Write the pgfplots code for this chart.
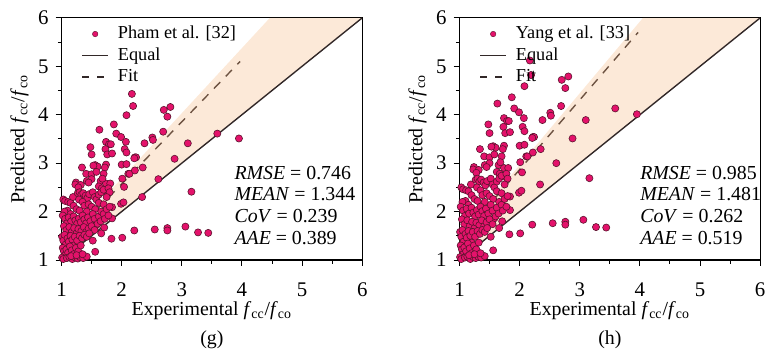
\documentclass[border=0pt]{standalone}
\usepackage{pgfplots}
\pgfplotsset{compat=1.18}
\usepackage{pgfplotstable}
\usepackage{fontspec}
\setmainfont{Liberation Serif}
\definecolor{ptc}{RGB}{228,18,107}
\definecolor{ptedge}{RGB}{90,20,45}
\definecolor{bandc}{RGB}{245,182,125}
\definecolor{linec}{RGB}{50,40,40}

\pgfplotstableread{
x yg yh
2.17 4.43 5.12
2.19 4.18 4.82
2.08 3.99 4.59
2.70 4.10 4.72
2.81 4.16 4.79
2.76 3.96 4.55
1.63 3.69 4.23
1.87 3.80 4.36
1.48 3.33 3.80
1.50 3.18 3.62
1.74 3.44 3.93
1.79 3.39 3.87
1.82 3.39 3.87
1.91 3.61 4.13
1.99 3.54 4.05
2.07 3.44 3.93
2.05 3.29 3.75
2.08 3.22 3.66
2.38 3.41 3.89
2.51 3.53 4.04
2.52 3.48 3.98
2.69 3.65 4.18
1.73 3.29 3.75
1.76 3.18 3.62
1.84 3.20 3.64
2.22 3.12 3.54
2.24 3.12 3.54
1.74 2.97 3.36
1.72 2.91 3.29
1.56 2.96 3.35
1.60 2.93 3.32
1.34 2.91 3.29
2.00 2.97 3.36
2.08 2.98 3.38
1.41 2.78 3.14
1.50 2.77 3.12
1.42 2.63 2.96
1.24 2.60 2.92
1.23 2.56 2.87
1.65 2.63 2.96
1.62 2.52 2.82
1.67 2.48 2.78
1.74 2.58 2.90
1.75 2.43 2.72
1.81 2.58 2.90
2.01 2.68 3.02
2.04 2.51 2.81
2.11 2.78 3.14
2.13 2.78 3.14
2.21 3.10 3.52
2.35 2.91 3.29
2.22 2.85 3.22
2.88 3.09 3.51
3.10 3.41 3.89
3.59 3.61 4.13
3.95 3.51 4.01
3.16 2.41 2.69
2.61 2.67 3.00
2.34 2.30 2.56
1.99 2.16 2.39
2.03 2.19 2.43
1.84 2.09 2.31
1.84 1.86 2.03
1.71 1.67 1.80
1.66 1.55 1.66
2.21 1.61 1.73
2.55 1.63 1.76
2.76 1.66 1.79
2.76 1.61 1.73
3.06 1.69 1.83
3.27 1.57 1.68
3.44 1.56 1.67
1.83 1.44 1.53
2.01 1.46 1.55
1.52 1.40 1.48
1.56 1.17 1.20
1.38 1.06 1.07
1.23 1.08 1.10
1.53 2.95 3.34
1.50 2.67 3.00
1.70 2.78 3.14
1.58 2.82 3.18
1.68 2.68 3.02
1.45 2.60 2.92
1.32 2.55 2.86
1.28 2.50 2.80
1.03 2.25 2.50
1.06 2.22 2.46
1.11 2.20 2.44
1.15 2.18 2.42
1.19 2.30 2.56
1.27 2.38 2.66
1.30 2.40 2.68
1.33 2.35 2.62
1.36 2.38 2.66
1.40 2.33 2.60
1.43 2.28 2.54
1.46 2.36 2.63
1.52 2.40 2.68
1.55 2.30 2.56
1.58 2.25 2.50
1.62 2.35 2.62
1.66 2.40 2.68
1.70 2.45 2.74
1.78 2.48 2.78
1.80 2.40 2.68
1.29 2.25 2.50
1.35 2.20 2.44
1.38 2.12 2.34
1.45 2.15 2.38
1.50 2.10 2.32
1.56 2.05 2.26
1.20 2.12 2.34
1.25 2.05 2.26
1.10 2.02 2.22
1.05 2.00 2.20
1.15 1.95 2.14
1.30 2.02 2.22
1.42 2.00 2.20
1.62 2.18 2.42
1.70 2.15 2.38
1.75 2.30 2.56
1.02 1.92 2.10
1.06 1.85 2.02
1.09 1.76 1.91
1.12 1.88 2.06
1.16 1.80 1.96
1.20 1.90 2.08
1.23 1.82 1.98
1.26 1.75 1.90
1.29 1.86 2.03
1.32 1.78 1.94
1.35 1.92 2.10
1.38 1.84 2.01
1.41 1.76 1.91
1.44 1.88 2.06
1.48 1.80 1.96
1.52 1.95 2.14
1.55 1.85 2.02
1.58 1.72 1.86
1.62 1.90 2.08
1.66 2.00 2.20
1.70 1.95 2.14
1.75 2.05 2.26
1.80 2.10 2.32
1.04 1.70 1.84
1.08 1.62 1.74
1.13 1.68 1.82
1.17 1.58 1.70
1.21 1.66 1.79
1.25 1.55 1.66
1.28 1.64 1.77
1.33 1.60 1.72
1.37 1.68 1.82
1.41 1.58 1.70
1.45 1.65 1.78
1.50 1.70 1.84
1.55 1.62 1.74
1.60 1.75 1.90
1.65 1.80 1.96
1.72 1.85 2.02
1.78 1.92 2.10
1.01 1.48 1.58
1.03 1.40 1.48
1.05 1.52 1.62
1.07 1.32 1.38
1.10 1.45 1.54
1.12 1.38 1.46
1.15 1.50 1.60
1.18 1.42 1.50
1.20 1.30 1.36
1.22 1.48 1.58
1.26 1.40 1.48
1.30 1.50 1.60
1.34 1.45 1.54
1.38 1.52 1.62
1.42 1.48 1.58
1.46 1.55 1.66
1.02 1.25 1.30
1.04 1.18 1.22
1.06 1.10 1.12
1.08 1.22 1.26
1.11 1.15 1.18
1.14 1.28 1.34
1.17 1.20 1.24
1.20 1.12 1.14
1.24 1.25 1.30
1.28 1.18 1.22
1.32 1.30 1.36
1.01 1.05 1.06
1.03 1.02 1.02
1.09 1.04 1.05
1.13 1.06 1.07
1.18 1.02 1.02
1.23 1.05 1.06
1.27 1.03 1.04
1.31 1.06 1.07
1.36 1.04 1.05
1.42 1.07 1.08
1.16 1.08 1.10
1.25 1.10 1.12
1.35 1.12 1.14
}\data

\tikzset{ann/.style={anchor=west, font=\fontsize{10}{12}\selectfont, inner sep=0pt}}

\pgfplotsset{
  myaxis/.style={
    scale only axis, width=151.5pt, height=122pt,
    xmin=1, xmax=6, ymin=1, ymax=6,
    xtick={1,...,6}, ytick={1,...,6},
    minor tick num=1,
    tick pos=left, tick align=outside,
    major tick length=3pt, minor tick length=1.8pt,
    axis line style={line width=0.6pt},
    every tick/.style={black, line width=0.5pt},
    tick label style={font=\fontsize{10.5}{12}\selectfont},
    xticklabel shift=5pt,
    /pgf/number format/assume math mode=true,
    label style={font=\fontsize{10}{12}\selectfont},
    ylabel={Predicted \textit{f}\textsubscript{cc}/\textit{f}\textsubscript{co}},
    ylabel style={at={(axis description cs:-0.14,0.5)}, anchor=center},
    xlabel style={at={(axis description cs:0.5,-0.142)}, anchor=north, align=center},
    legend style={at={(axis description cs:0.045,1)}, anchor=north west, draw=none, fill=none,
      font=\fontsize{9.2}{10.5}\selectfont, inner xsep=3pt, inner ysep=2pt, row sep=-1pt,
      /tikz/every odd column/.append style={column sep=2.5pt}},
    legend cell align=left,
    legend image code/.code={\draw[mark repeat=2,mark phase=2,#1] plot coordinates {(0cm,0cm) (0.23cm,0cm) (0.46cm,0cm)};},
  },
  pts/.style={only marks, mark=*, mark size=1.8pt, mark options={fill=ptc, draw=ptedge, line width=0.3pt}},
}

\begin{document}
\begin{tikzpicture}
\path (0,0) rectangle (386pt,173.5pt);
% ---------- (g)
\begin{axis}[myaxis, at={(31pt,42.5pt)}, anchor=south west,
  xlabel={Experimental \textit{f}\textsubscript{cc}/\textit{f}\textsubscript{co}\\[2.5pt](g)}]
\addlegendimage{only marks, mark=*, mark size=1.4pt, mark options={fill=ptc, draw=ptedge, line width=0.2pt}}
\addlegendentry{Pham et al. [32]}
\addlegendimage{linec, line width=0.8pt}
\addlegendentry{Equal}
\addlegendimage{linec, line width=0.8pt, dash pattern=on 3.5pt off 4pt}
\addlegendentry{Fit}
\addplot[linec, line width=0.7pt, dash pattern=on 4.5pt off 4pt, forget plot] coordinates {(1,1.285) (3.97,5.10)};
\addplot[pts, forget plot] table[x=x, y=yg] {\data};
\addplot[fill=bandc, fill opacity=0.3, draw=none, forget plot] coordinates {(1,1) (6,6) (4.464,6) (1,1.344)} -- cycle;
\addplot[linec, line width=0.7pt, forget plot] coordinates {(1,1) (6,6)};
\node[ann] at (axis cs:3.87,2.80) {\textit{RMSE} = 0.746};
\node[ann] at (axis cs:3.87,2.36) {\textit{MEAN} = 1.344};
\node[ann] at (axis cs:3.87,1.91) {\textit{CoV} = 0.239};
\node[ann] at (axis cs:3.87,1.45) {\textit{AAE} = 0.389};
\end{axis}
% ---------- (h)
\begin{axis}[myaxis, at={(231.5pt,42.5pt)}, anchor=south west,
  xlabel={Experimental \textit{f}\textsubscript{cc}/\textit{f}\textsubscript{co}\\[2.5pt](h)}]
\addlegendimage{only marks, mark=*, mark size=1.4pt, mark options={fill=ptc, draw=ptedge, line width=0.2pt}}
\addlegendentry{Yang et al. [33]}
\addlegendimage{linec, line width=0.8pt}
\addlegendentry{Equal}
\addlegendimage{linec, line width=0.8pt, dash pattern=on 3.5pt off 4pt}
\addlegendentry{Fit}
\addplot[linec, line width=0.7pt, dash pattern=on 4.5pt off 4pt, forget plot] coordinates {(1,1.43) (3.97,5.70)};
\addplot[pts, forget plot] table[x=x, y=yh] {\data};
\addplot[fill=bandc, fill opacity=0.3, draw=none, forget plot] coordinates {(1,1) (6,6) (4.051,6) (1,1.481)} -- cycle;
\addplot[linec, line width=0.7pt, forget plot] coordinates {(1,1) (6,6)};
\node[ann] at (axis cs:4.0,2.80) {\textit{RMSE} = 0.985};
\node[ann] at (axis cs:4.0,2.36) {\textit{MEAN} = 1.481};
\node[ann] at (axis cs:4.0,1.91) {\textit{CoV} = 0.262};
\node[ann] at (axis cs:4.0,1.45) {\textit{AAE} = 0.519};
\end{axis}
\end{tikzpicture}
\end{document}
